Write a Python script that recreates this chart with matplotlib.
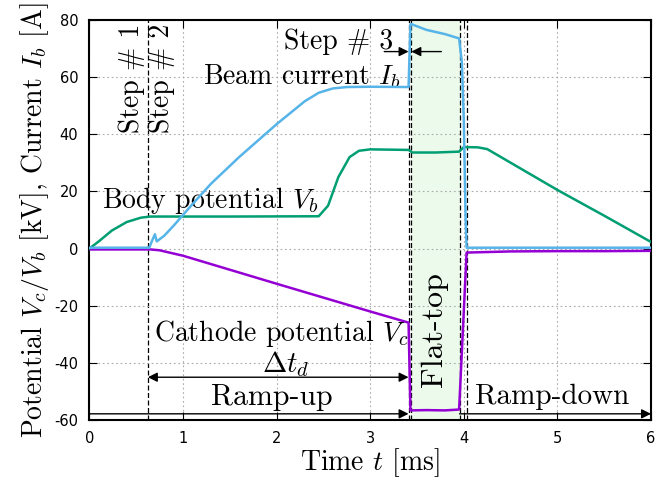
import matplotlib
matplotlib.use('Agg')
import matplotlib.pyplot as plt

plt.rcParams['mathtext.fontset'] = 'cm'

# time [ms] and values
t_beam = [0, 0.64, 0.66, 0.70, 0.72, 0.8, 0.9, 1.1, 1.3, 1.6, 2.0, 2.3, 2.45, 2.6, 2.75, 3.0, 3.41,
          3.43, 3.44, 3.6, 3.8, 3.95, 3.98, 4.0, 4.02, 4.03, 4.5, 5.0, 5.5, 6.0]
i_beam = [0.3, 0.3, 2.0, 5.0, 2.5, 4.5, 8.0, 15.5, 22.7, 32.0, 43.5, 51.5, 54.5, 56.0, 56.5, 56.6, 56.5,
          78.5, 78.5, 76.5, 75.0, 73.5, 65.0, 45.0, 10.0, 0.3, 0.3, 0.3, 0.3, 0.3]

t_body = [0, 0.1, 0.24, 0.4, 0.55, 0.65, 1.5, 2.45, 2.55, 2.66, 2.78, 2.88, 3.0, 3.41, 3.45, 3.7, 3.95,
          4.0, 4.15, 4.25, 5.0, 5.5, 6.0]
v_body = [0, 2.5, 6.3, 9.3, 10.8, 11.2, 11.2, 11.3, 15.0, 25.0, 32.0, 34.2, 34.7, 34.5, 33.6, 33.6, 33.9,
          35.5, 35.4, 34.8, 20.5, 11.5, 2.3]

t_cath = [0, 0.65, 0.75, 1.0, 2.0, 3.0, 3.41, 3.43, 3.6, 3.8, 3.95, 4.03, 4.5, 5.0, 5.5, 6.0]
v_cath = [-0.3, -0.3, -0.6, -2.5, -12.3, -22.0, -25.9, -56.6, -56.5, -56.6, -56.3, -1.4, -1.0, -0.9, -0.9, -0.8]

step_lines = [0.625, 3.41, 3.44, 3.955, 4.03]
flat_top = (3.44, 3.955)

fig = plt.figure(figsize=(6.67, 4.84), dpi=100)
ax = fig.add_axes([0.134, 0.132, 0.842, 0.827])

ax.axvspan(flat_top[0], flat_top[1], color='#ebfaeb', zorder=0)
for x in step_lines:
    ax.axvline(x, color='black', linestyle=(0, (4, 2)), linewidth=0.9, zorder=1)

ax.plot(t_cath, v_cath, color='#9400d3', linewidth=1.8, zorder=3)
ax.plot(t_body, v_body, color='#009e73', linewidth=1.8, zorder=3)
ax.plot(t_beam, i_beam, color='#56b4e9', linewidth=1.8, zorder=4)

ax.set_xlim(0, 6)
ax.set_ylim(-60, 80)
ax.set_xticks(range(0, 7))
ax.set_yticks(range(-60, 81, 20))
ax.tick_params(direction='in', top=True, right=True, length=6, labelsize=10.5, pad=8)
for lab in ax.get_xticklabels() + ax.get_yticklabels():
    lab.set_family('DejaVu Sans')
ax.yaxis.set_major_formatter(matplotlib.ticker.FuncFormatter(lambda v, p: '%d' % v))
ax.grid(True, linestyle=(0, (1.5, 2.5)), color='#aaaaaa', linewidth=0.8)
for s in ax.spines.values():
    s.set_linewidth(1.5)

fs = 20
cm = 'cmr10'
ax.set_xlabel(r'Time $t$ [ms]', fontsize=fs, family=cm, labelpad=0)
ax.set_ylabel(r'Potential $V_c/V_b$ [kV], Current $I_b$ [A]', fontsize=fs, family=cm, labelpad=2)

ax.text(0.45, 59.5, r'Step # 1', rotation=90, ha='center', va='center', fontsize=fs, family=cm)
ax.text(0.77, 59.5, r'Step # 2', rotation=90, ha='center', va='center', fontsize=fs, family=cm)
ax.text(2.66, 72.3, r'Step # 3', ha='center', va='center', fontsize=fs, family=cm)
ax.text(2.27, 60.0, r'Beam current $I_b$', ha='center', va='center', fontsize=fs, family=cm)
ax.text(1.29, 16.8, r'Body potential $V_b$', ha='center', va='center', fontsize=fs, family=cm)
ax.text(2.05, -29.7, r'Cathode potential $V_c$', ha='center', va='center', fontsize=fs, family=cm)
ax.text(2.1, -40.5, r'$\Delta t_d$', ha='center', va='center', fontsize=fs + 1)
ax.text(1.95, -52, r'Ramp-up', ha='center', va='center', fontsize=fs + 1.5, family=cm)
ax.text(4.94, -52, r'Ramp-down', ha='center', va='center', fontsize=fs + 1, family=cm)
ax.text(3.69, -28.5, r'Flat-top', rotation=90, ha='center', va='center', fontsize=fs + 3, family=cm)

arrow = dict(arrowstyle='-|>', color='black', lw=1.0, mutation_scale=14, shrinkA=0, shrinkB=0)
ax.annotate('', xy=(3.41, 68.9), xytext=(3.15, 68.9), arrowprops=arrow)
ax.annotate('', xy=(3.44, 68.9), xytext=(3.76, 68.9), arrowprops=arrow)
ax.annotate('', xy=(0.625, -45), xytext=(3.41, -45),
            arrowprops=dict(arrowstyle='<|-|>', color='black', lw=1.0, mutation_scale=14, shrinkA=0, shrinkB=0))
ax.annotate('', xy=(3.41, -57.8), xytext=(0, -57.8), arrowprops=arrow)
ax.annotate('', xy=(6.0, -57.8), xytext=(3.955, -57.8), arrowprops=arrow)

fig.savefig('out.png', dpi=100)
